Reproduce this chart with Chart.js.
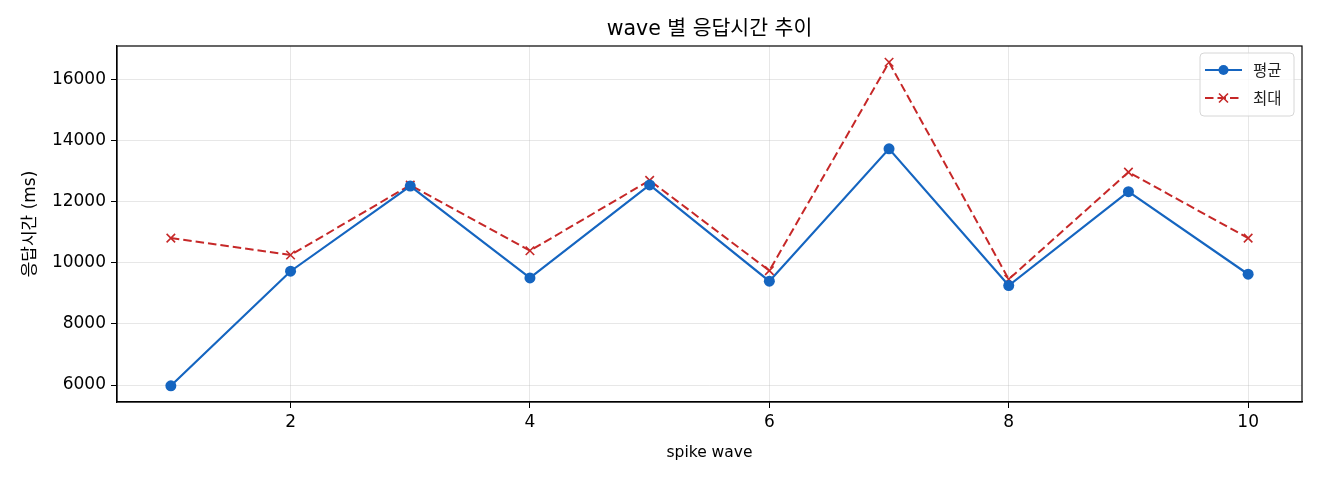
<!DOCTYPE html>
<html>
<head>
<meta charset="utf-8">
<script src="https://cdn.jsdelivr.net/npm/chart.js@4.4.1/dist/chart.umd.min.js"></script>
<style>
html,body{margin:0;padding:0;background:#fff;}
#wrap{width:1320px;height:480px;position:relative;}
</style>
</head>
<body>
<div id="wrap"><canvas id="c" width="1320" height="480"></canvas></div>
<script>
const waves = [1, 2, 3, 4, 5, 6, 7, 8, 9, 10];
const avgValues = [5975, 9723, 12508, 9505, 12545, 9397, 13725, 9254, 12326, 9625];
const maxValues = [10806, 10253, 12540, 10393, 12694, 9742, 16556, 9460, 12964, 10806];
const xTicks = [2, 4, 6, 8, 10];
const yTicks = [6000, 8000, 10000, 12000, 14000, 16000];
const seriesNames = ['평균', '최대'];
const chartTitle = 'wave 별 응답시간 추이';

const FONT = "'DejaVu Sans', 'Noto Sans CJK KR', sans-serif";
const KFONT = "'Noto Sans CJK KR', 'DejaVu Sans', sans-serif";
const BLUE = '#1565C0';
const RED = '#C62828';

const boxPlugin = {
  id: 'boxLegend',
  afterDraw(chart) {
    const {ctx, chartArea: a} = chart;
    ctx.save();
    ctx.strokeStyle = '#000';
    ctx.lineWidth = 1.2;
    ctx.strokeRect(a.left, a.top, a.right - a.left, a.bottom - a.top);
    // title centred over the plot area
    ctx.fillStyle = '#000';
    ctx.font = '20.5px ' + FONT;
    ctx.textAlign = 'center';
    ctx.textBaseline = 'middle';
    ctx.fillText(chartTitle, (a.left + a.right) / 2, 30);
    // legend
    const lx = 1200, ly = 53, lw = 94, lh = 63, r = 4;
    ctx.beginPath();
    ctx.moveTo(lx + r, ly);
    ctx.arcTo(lx + lw, ly, lx + lw, ly + lh, r);
    ctx.arcTo(lx + lw, ly + lh, lx, ly + lh, r);
    ctx.arcTo(lx, ly + lh, lx, ly, r);
    ctx.arcTo(lx, ly, lx + lw, ly, r);
    ctx.closePath();
    ctx.fillStyle = 'rgba(255,255,255,0.8)';
    ctx.fill();
    ctx.strokeStyle = '#d6d6d6';
    ctx.lineWidth = 1;
    ctx.stroke();
    const y1 = 70, y2 = 98;
    ctx.strokeStyle = BLUE; ctx.lineWidth = 2.2; ctx.setLineDash([]);
    ctx.beginPath(); ctx.moveTo(1205, y1); ctx.lineTo(1242, y1); ctx.stroke();
    ctx.fillStyle = BLUE;
    ctx.beginPath(); ctx.arc(1223.5, y1, 5, 0, Math.PI * 2); ctx.fill();
    ctx.strokeStyle = RED; ctx.setLineDash([8.5, 4]);
    ctx.beginPath(); ctx.moveTo(1205, y2); ctx.lineTo(1242, y2); ctx.stroke();
    ctx.setLineDash([]); ctx.lineWidth = 1.6;
    ctx.beginPath();
    ctx.moveTo(1219, y2 - 4.5); ctx.lineTo(1228, y2 + 4.5);
    ctx.moveTo(1228, y2 - 4.5); ctx.lineTo(1219, y2 + 4.5);
    ctx.stroke();
    ctx.fillStyle = '#222';
    ctx.font = '15.5px ' + KFONT;
    ctx.textBaseline = 'middle';
    ctx.textAlign = 'left';
    ctx.fillText(seriesNames[0], 1253, y1);
    ctx.fillText(seriesNames[1], 1253, y2);
    ctx.restore();
  }
};

new Chart(document.getElementById('c'), {
  type: 'line',
  data: {
    datasets: [
      {
        label: seriesNames[0],
        data: waves.map((w, i) => ({x: w, y: avgValues[i]})),
        borderColor: BLUE,
        backgroundColor: BLUE,
        borderWidth: 2.2,
        pointRadius: 5.5,
        pointHoverRadius: 5.5,
        pointStyle: 'circle',
        pointBorderWidth: 0,
        tension: 0
      },
      {
        label: seriesNames[1],
        data: waves.map((w, i) => ({x: w, y: maxValues[i]})),
        borderColor: RED,
        backgroundColor: RED,
        borderWidth: 2,
        borderDash: [8.5, 4],
        pointStyle: 'crossRot',
        pointRadius: 6,
        pointHoverRadius: 6,
        pointBorderWidth: 1.6,
        tension: 0
      }
    ]
  },
  options: {
    responsive: false,
    animation: false,
    layout: {padding: {left: 0, right: 18, top: 46, bottom: 0}},
    plugins: {
      legend: {display: false},
      tooltip: {enabled: false},
      title: {display: false}
    },
    scales: {
      x: {
        type: 'linear',
        min: 0.55,
        max: 10.45,
        afterBuildTicks(scale) { scale.ticks = xTicks.map(v => ({value: v})); },
        afterFit(scale) { scale.height = 78; },
        ticks: {color: '#000', font: {family: FONT, size: 17}, padding: 4, maxRotation: 0,
                callback: v => String(v)},
        grid: {color: 'rgba(176,176,176,0.3)', tickColor: '#000', tickLength: 6, lineWidth: 1},
        border: {display: true, color: '#000', width: 1.2},
        title: {display: true, text: 'spike wave', color: '#000', font: {family: FONT, size: 15.5}, padding: {top: 0, bottom: 18}}
      },
      y: {
        type: 'linear',
        min: 5446,
        max: 17089,
        afterBuildTicks(scale) { scale.ticks = yTicks.map(v => ({value: v})); },
        afterFit(scale) { scale.width = 117; },
        ticks: {color: '#000', font: {family: FONT, size: 17}, padding: 5,
                callback: v => String(v)},
        grid: {color: 'rgba(176,176,176,0.3)', tickColor: '#000', tickLength: 6, lineWidth: 1},
        border: {display: true, color: '#000', width: 1.2},
        title: {display: true, text: '응답시간 (ms)', color: '#000', font: {family: FONT, size: 17}, padding: {top: 20, bottom: 0}}
      }
    }
  },
  plugins: [boxPlugin]
});
</script>
</body>
</html>
